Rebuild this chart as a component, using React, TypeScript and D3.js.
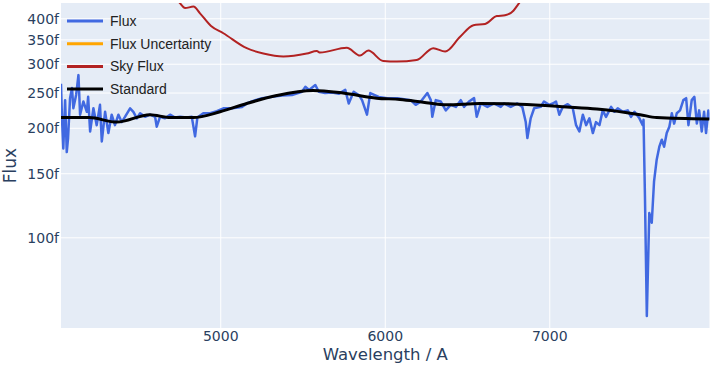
import { useEffect, useRef } from "react";
import * as d3 from "d3";

// wavelengths in Angstrom, fluxes in units of 1e-15 (plotted with an "f" suffix)
const fluxWave = [
  4029, 4035, 4043, 4054, 4064, 4072, 4084, 4096, 4104, 4121, 4135, 4145, 4165, 4186, 4194, 4206,
  4226, 4246, 4266, 4277, 4297, 4317, 4337, 4357, 4378, 4398, 4418, 4449, 4469, 4490, 4510, 4540,
  4570, 4601, 4611, 4631, 4661, 4692, 4722, 4753, 4793, 4824, 4844, 4858, 4894, 4935, 4976, 5016,
  5069, 5129, 5166, 5210, 5251, 5312, 5373, 5433, 5494, 5514, 5537, 5575, 5596, 5634, 5677, 5719,
  5757, 5778, 5808, 5839, 5859, 5889, 5909, 5960, 6011, 6074, 6155, 6185, 6216, 6256, 6277, 6286,
  6307, 6337, 6368, 6398, 6429, 6459, 6479, 6509, 6540, 6556, 6581, 6621, 6661, 6702, 6722, 6763,
  6803, 6833, 6854, 6864, 6884, 6905, 6945, 6965, 6996, 7018, 7038, 7058, 7079, 7109, 7140, 7160,
  7180, 7201, 7221, 7241, 7262, 7281, 7302, 7322, 7342, 7373, 7393, 7413, 7444, 7474, 7494, 7515,
  7545, 7565, 7570, 7579, 7590, 7605, 7620, 7634, 7650, 7666, 7681, 7695, 7711, 7727, 7742, 7756,
  7772, 7792, 7812, 7829, 7843, 7863, 7879, 7894, 7908, 7924, 7938, 7950, 7964, 7971,
];
const fluxValues = [
  265, 213, 176, 239, 172, 188, 242, 258, 227, 247, 280, 218, 237, 222, 244, 196,
  227, 204, 232, 184, 222, 194, 218, 204, 218, 208, 215, 227, 222, 213, 220, 215,
  218, 215, 202, 215, 213, 218, 214, 215, 214, 215, 190, 214, 220, 220, 223, 227,
  227, 229, 235, 239, 242, 244, 246, 247, 252, 260, 255, 263, 252, 250, 251, 249,
  255, 234, 252, 247, 239, 218, 250, 244, 242, 242, 239, 232, 237, 250, 239, 215,
  239, 237, 224, 232, 229, 239, 229, 237, 242, 215, 234, 229, 234, 229, 234, 229,
  234, 229, 208, 188, 213, 227, 229, 237, 232, 234, 237, 218, 229, 233, 227, 204,
  196, 218, 204, 213, 194, 208, 204, 224, 215, 229, 222, 227, 222, 224, 215, 222,
  213, 204, 211, 127, 61, 117, 110, 143, 164, 178, 186, 178, 194, 202, 220, 206,
  220, 224, 239, 242, 204, 239, 244, 206, 224, 196, 222, 194, 224, 211,
];

const standardWave = [
  4029, 4200, 4368, 4570, 4692, 4832, 4996, 5158, 5340, 5561, 5743, 5948, 6090, 6230, 6374, 6576,
  6819, 7103, 7286, 7549, 7650, 7971,
];
const standardValues = [
  214, 214, 208, 218, 214, 214, 222, 234, 246, 254, 250, 242, 240, 236, 232, 234,
  233, 229, 226, 218, 214, 212,
];

const skyWave = [
  4722, 4753, 4783, 4834, 4874, 4941, 5016, 5158, 5259, 5381, 5523, 5584, 5604, 5766, 5847, 5897,
  5988, 6070, 6191, 6292, 6364, 6455, 6536, 6607, 6678, 6728, 6779, 6809, 6850,
];
const skyValues = [
  460, 441, 428, 432, 414, 382, 365, 332, 321, 315, 321, 326, 323, 333, 317, 327,
  306, 305, 308, 332, 325, 357, 384, 387, 407, 409, 421, 439, 465,
];

// uncertainty sits far below the visible flux range
const uncWave = [4029, 4500, 5000, 5500, 6000, 6500, 7000, 7500, 7971];
const uncValues = [14, 10, 9, 8, 8, 9, 9, 11, 13];

const xTicks = [5000, 6000, 7000];
const yTicks = [100, 150, 200, 250, 300, 350, 400];
const legendNames = ["Flux", "Flux Uncertainty", "Sky Flux", "Standard"];
const legendColors = ["royalblue", "orange", "firebrick", "black"];

export default function App() {
  const ref = useRef<SVGSVGElement>(null);

  useEffect(() => {
    const svg = d3.select(ref.current);
    svg.selectAll("*").remove();
    const width = 712;
    const height = 365;
    const margin = { top: 3, right: 2.5, bottom: 37, left: 61 };
    const innerWidth = width - margin.left - margin.right;
    const innerHeight = height - margin.top - margin.bottom;

    const xScale = d3.scaleLinear().domain([4029, 7971]).range([0, innerWidth]);
    const yScale = d3.scaleLog().domain([56.5, 442]).range([innerHeight, 0]);

    const g = svg.append("g").attr("transform", `translate(${margin.left}, ${margin.top})`);

    g.append("rect")
      .attr("width", innerWidth)
      .attr("height", innerHeight)
      .attr("fill", "#E5ECF6");

    svg.append("defs").append("clipPath").attr("id", "plotclip")
      .append("rect").attr("width", innerWidth).attr("height", innerHeight);

    // grid
    g.selectAll(".xgrid").data(xTicks).join("line")
      .attr("x1", d => xScale(d)).attr("x2", d => xScale(d))
      .attr("y1", 0).attr("y2", innerHeight)
      .attr("stroke", "white").attr("stroke-width", 1);
    g.selectAll(".ygrid").data(yTicks).join("line")
      .attr("x1", 0).attr("x2", innerWidth)
      .attr("y1", d => yScale(d)).attr("y2", d => yScale(d))
      .attr("stroke", "white").attr("stroke-width", 1);

    // tick labels
    const tickFont = "'DejaVu Sans', Verdana, sans-serif";
    g.selectAll(".xlab").data(xTicks).join("text")
      .attr("x", d => xScale(d)).attr("y", innerHeight + 13)
      .attr("text-anchor", "middle")
      .attr("font-family", tickFont).attr("font-size", 14).attr("fill", "#2a3f5f")
      .text(d => d);
    g.selectAll(".ylab").data(yTicks).join("text")
      .attr("x", -2).attr("y", d => yScale(d)).attr("dy", "0.36em")
      .attr("text-anchor", "end")
      .attr("font-family", tickFont).attr("font-size", 14).attr("fill", "#2a3f5f")
      .text(d => `${d}f`);

    // axis titles
    svg.append("text")
      .attr("x", margin.left + innerWidth / 2).attr("y", 360)
      .attr("text-anchor", "middle")
      .attr("font-family", tickFont).attr("font-size", 16.5).attr("fill", "#2a3f5f")
      .text("Wavelength / A");
    svg.append("text")
      .attr("transform", `translate(16, ${margin.top + innerHeight / 2}) rotate(-90)`)
      .attr("text-anchor", "middle")
      .attr("font-family", tickFont).attr("font-size", 17).attr("fill", "#2a3f5f")
      .text("Flux");

    // lines
    const plot = g.append("g").attr("clip-path", "url(#plotclip)");
    const series = [
      { w: fluxWave, v: fluxValues, color: legendColors[0], width: 2.5, curve: d3.curveLinear },
      { w: uncWave, v: uncValues, color: legendColors[1], width: 2, curve: d3.curveLinear },
      { w: skyWave, v: skyValues, color: legendColors[2], width: 2, curve: d3.curveMonotoneX },
      { w: standardWave, v: standardValues, color: legendColors[3], width: 3, curve: d3.curveMonotoneX },
    ];
    series.forEach(s => {
      const pts = s.w.map((w, i) => [w, s.v[i]] as [number, number]);
      const line = d3.line<[number, number]>()
        .x(d => xScale(d[0]))
        .y(d => yScale(d[1]))
        .curve(s.curve);
      plot.append("path")
        .attr("d", line(pts))
        .attr("fill", "none")
        .attr("stroke", s.color)
        .attr("stroke-width", s.width)
        .attr("stroke-linejoin", "round");
    });

    // legend
    const legend = svg.append("g");
    legendNames.forEach((name, i) => {
      const y = 21 + i * 22.7;
      legend.append("line")
        .attr("x1", 67).attr("x2", 103).attr("y1", y).attr("y2", y)
        .attr("stroke", legendColors[i]).attr("stroke-width", 3);
      legend.append("text")
        .attr("x", 110).attr("y", y).attr("dy", "0.36em")
        .attr("font-family", "'Liberation Sans', Arial, sans-serif")
        .attr("font-size", 14).attr("fill", "#222")
        .text(name);
    });
  }, []);

  return (
    <div>
      <style>{`body { margin: 0; }`}</style>
      <svg ref={ref} width={712} height={365} style={{ display: "block", background: "white" }}></svg>
    </div>
  );
}
